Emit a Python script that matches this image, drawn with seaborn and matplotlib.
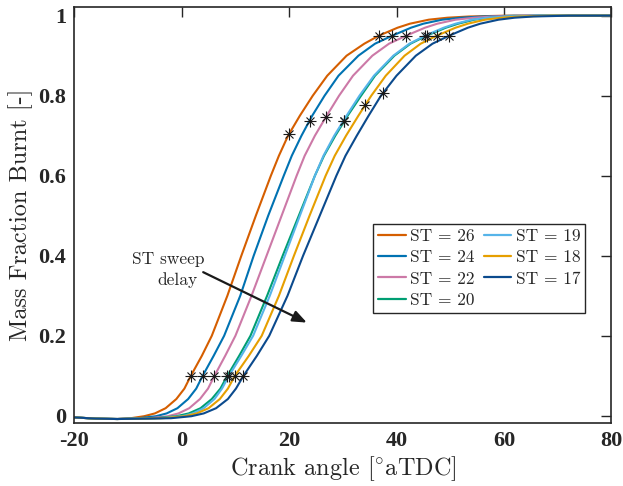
import matplotlib
matplotlib.use("Agg")
import matplotlib.pyplot as plt
import seaborn as sns
import pandas as pd

sns.set_theme(style="white")
plt.rcParams["mathtext.fontset"] = "cm"
plt.rcParams["font.family"] = ["cmr10", "DejaVu Serif"]
plt.rcParams["axes.formatter.use_mathtext"] = True

# ---------------- data ----------------
SERIES = ["ST = 26", "ST = 24", "ST = 22", "ST = 20", "ST = 19", "ST = 18", "ST = 17"]
COLORS = ["#D55E00", "#0072B2", "#CC79A7", "#009E73", "#56B4E9", "#E69F00", "#0B4A8D"]

# common flat start of every curve
BASE_X = [-20, -16, -12]
BASE_Y = [-0.004, -0.007, -0.008]

# foot of each curve: x at these mass-fraction values
FOOT_Y = [-0.006, -0.001, 0.006, 0.019, 0.042, 0.068]
FOOT_X_26 = [-9.5, -7.0, -5.0, -3.0, -1.0, 0.5]
FOOT_X_24 = [-8.0, -4.8, -2.8, -0.8, 1.2, 2.7]
FOOT_X_22 = [-6.0, -2.6, -0.6, 1.4, 3.4, 4.9]
FOOT_X_20 = [-5.0, -1.0, 1.3, 3.5, 5.6, 7.2]
FOOT_X_19 = [-4.0, 0.1, 2.1, 4.1, 6.1, 7.5]
FOOT_X_18 = [-3.5, 0.6, 2.8, 5.0, 7.1, 8.6]
FOOT_X_17 = [-2.0, 1.8, 4.1, 6.4, 8.6, 10.1]

# main part: x at these mass-fraction levels
LEVELS = [0.1, 0.15, 0.2, 0.3, 0.4, 0.5, 0.6, 0.65, 0.7, 0.75, 0.8, 0.85,
          0.9, 0.93, 0.95, 0.97, 0.98, 0.99, 0.995, 0.998, 1.0]
X_26 = [1.7, 3.75, 5.6, 8.5, 11.1, 13.8, 16.6, 18.1, 19.8, 22.0, 24.4, 27.1,
        30.7, 34.0, 36.7, 40.2, 42.5, 46.0, 49.5, 53.5, 60]
X_24 = [3.9, 5.95, 7.9, 10.9, 13.4, 16.1, 19.0, 20.5, 22.3, 24.3, 26.6, 29.2,
        32.9, 36.0, 39.2, 42.7, 45.0, 48.5, 52.0, 56.0, 62]
X_22 = [6.1, 8.1, 10.0, 13.0, 15.8, 18.6, 21.4, 22.9, 24.8, 27.0, 29.3, 31.9,
        35.5, 38.6, 41.8, 45.3, 47.6, 51.0, 54.5, 58.0, 64]
X_20 = [8.5, 10.7, 12.8, 15.9, 18.8, 21.8, 24.8, 26.5, 28.6, 30.9, 33.4, 36.0,
        39.6, 42.6, 45.6, 49.2, 51.5, 54.5, 57.5, 61.0, 67]
X_19 = [8.8, 11.1, 13.3, 16.4, 19.2, 22.0, 24.8, 26.4, 28.4, 30.7, 33.1, 35.8,
        39.4, 42.4, 45.3, 48.8, 51.0, 54.0, 57.0, 60.5, 66]
X_18 = [9.9, 12.5, 14.9, 18.1, 20.9, 23.8, 26.8, 28.5, 30.6, 32.9, 35.3, 38.0,
        41.5, 44.5, 47.5, 51.0, 53.3, 56.5, 59.5, 63.0, 69]
X_17 = [11.5, 14.0, 16.3, 19.7, 22.6, 25.7, 28.8, 30.5, 32.6, 34.8, 37.1, 40.0,
        43.6, 46.7, 49.8, 53.3, 55.6, 59.0, 62.0, 65.5, 72]
END_X, END_Y = 80, 1.0

# asterisk markers
CA10_X = [1.7, 3.9, 6.1, 8.5, 8.8, 9.9, 11.5]
CA10_Y = [0.1] * 7
MID_X = [20.0, 23.8, 26.9, 30.3, 30.3, 34.1, 37.5]
MID_Y = [0.705, 0.7375, 0.748, 0.738, 0.738, 0.778, 0.808]
CA95_X = [36.7, 39.2, 41.8, 45.6, 45.3, 47.5, 49.8]
CA95_Y = [0.95] * 7

XTICKS = [-20, 0, 20, 40, 60, 80]
XTICK_LABELS = ["-20", "0", "20", "40", "60", "80"]
YTICKS = [0, 0.2, 0.4, 0.6, 0.8, 1.0]
YTICK_LABELS = ["0", "0.2", "0.4", "0.6", "0.8", "1"]

# ---------------- build table ----------------
FOOTS = [FOOT_X_26, FOOT_X_24, FOOT_X_22, FOOT_X_20, FOOT_X_19, FOOT_X_18, FOOT_X_17]
MAINS = [X_26, X_24, X_22, X_20, X_19, X_18, X_17]
frames = []
for name, fx, mx in zip(SERIES, FOOTS, MAINS):
    xs = BASE_X + fx + mx + [END_X]
    ys = BASE_Y + FOOT_Y + LEVELS + [END_Y]
    frames.append(pd.DataFrame({"x": xs, "y": ys, "ST": name}))
df = pd.concat(frames, ignore_index=True)

# ---------------- plot ----------------
fig, ax = plt.subplots(figsize=(6.23, 4.86), dpi=100)
fig.subplots_adjust(left=0.1193, right=0.9812, top=0.985, bottom=0.1296)

sns.lineplot(data=df, x="x", y="y", hue="ST", hue_order=SERIES, palette=COLORS,
             sort=False, estimator=None, units="ST", linewidth=1.5, ax=ax)

for mxs, mys in [(CA10_X, CA10_Y), (MID_X, MID_Y), (CA95_X, CA95_Y)]:
    ax.plot(mxs, mys, ls="none", marker="+", ms=9, mew=0.8, color="k", zorder=5)
    ax.plot(mxs, mys, ls="none", marker="x", ms=6.4, mew=0.8, color="k", zorder=5)

ax.set_xlim(-20, 80)
ax.set_ylim(-0.018, 1.021)
ax.set_xticks(XTICKS)
ax.set_xticklabels(XTICK_LABELS, fontfamily="Liberation Serif", fontweight="bold", fontsize=16)
ax.set_yticks(YTICKS)
ax.set_yticklabels(YTICK_LABELS, fontfamily="Liberation Serif", fontweight="bold", fontsize=16)
ax.tick_params(direction="in", length=7, width=1.0, top=True, right=True,
               colors="#262626", pad=6)
for s in ax.spines.values():
    s.set_visible(True)
    s.set_color("#262626")
    s.set_linewidth(1.2)
ax.grid(False)

ax.set_xlabel("Crank angle [$^{\\circ}$aTDC]", fontsize=17.5, color="#262626", labelpad=2)
ax.set_ylabel("Mass Fraction Burnt [-]", fontsize=17.5, color="#262626", labelpad=4)

handles, labels = ax.get_legend_handles_labels()
leg = ax.legend(handles, labels, ncol=2, loc="upper left", bbox_to_anchor=(0.556, 0.479),
                borderaxespad=0, fontsize=12.5, handlelength=1.6, handletextpad=0.25,
                columnspacing=0.5, labelspacing=0.33, borderpad=0.3, fancybox=False,
                framealpha=1, edgecolor="#262626")
leg.get_frame().set_linewidth(1.0)
for line in leg.get_lines():
    line.set_linewidth(1.6)

ax.annotate("", xy=(23.3, 0.233), xytext=(4.0, 0.359),
            arrowprops=dict(arrowstyle="-|>,head_length=0.7,head_width=0.28",
                            color="k", lw=1.6, shrinkA=0, shrinkB=0))
ax.text(-2.6, 0.39, "ST sweep", ha="center", va="center", fontsize=12.5, color="#262626")
ax.text(-0.8, 0.34, "delay", ha="center", va="center", fontsize=12.5, color="#262626")

fig.savefig("out.png", dpi=100)
